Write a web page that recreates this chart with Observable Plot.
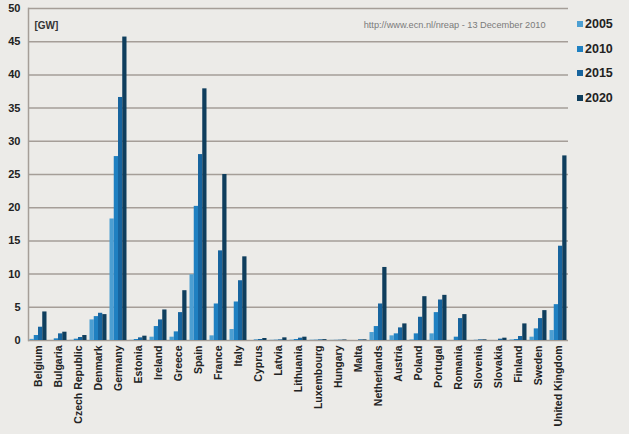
<!DOCTYPE html>
<html><head><meta charset="utf-8">
<script src="https://cdn.jsdelivr.net/npm/d3@7"></script>
<script src="https://cdn.jsdelivr.net/npm/@observablehq/plot@0.6"></script>
<style>
html,body{margin:0;padding:0;background:#ecebe8;}
#wrap{position:relative;width:629px;height:434px;font-family:"Liberation Sans",Arial,sans-serif;}
#legend{position:absolute;left:577px;top:12px;font-weight:bold;font-size:12.5px;color:#222;}
#legend div{height:24.5px;display:flex;align-items:center;}
#legend span.sw{display:inline-block;width:6px;height:6px;margin-right:2px;}
</style></head>
<body><div id="wrap"><div id="legend"></div></div>
<script>
const countries = ["Belgium","Bulgaria","Czech Republic","Denmark","Germany","Estonia","Ireland","Greece","Spain","France","Italy","Cyprus","Latvia","Lithuania","Luxembourg","Hungary","Malta","Netherlands","Austria","Poland","Portugal","Romania","Slovenia","Slovakia","Finland","Sweden","United Kingdom"];
const years = ["2005","2010","2015","2020"];
const v2005 = [0.17,0.01,0.03,3.1,18.3,0.03,0.5,0.5,9.9,0.7,1.65,0,0.03,0.05,0.04,0.02,0,1.2,0.7,0.08,1.0,0.01,0,0.005,0.08,0.5,1.5];
const v2010 = [0.75,0.25,0.2,3.6,27.7,0.15,2.1,1.3,20.2,5.5,5.8,0.08,0.05,0.15,0.05,0.03,0,2.1,1.0,1.0,4.2,0.5,0.03,0.005,0.15,1.75,5.4];
const v2015 = [2.0,1.0,0.45,4.1,36.6,0.4,3.1,4.2,28.0,13.5,9.0,0.15,0.1,0.35,0.1,0.05,0.1,5.5,1.9,3.5,6.1,3.3,0.1,0.2,0.6,3.3,14.2];
const v2020 = [4.3,1.25,0.75,3.9,45.7,0.65,4.6,7.5,37.9,25.0,12.6,0.3,0.4,0.5,0.13,0.08,0.1,11.0,2.5,6.6,6.8,3.9,0.1,0.35,2.5,4.5,27.8];
const yTicks = [0,5,10,15,20,25,30,35,40,45,50];
const colors = ["#4c9fd2","#1f80c1","#17649e","#0f3e5d"];
const seriesValues = [v2005, v2010, v2015, v2020];

const W = 629, H = 434, ML = 28, MR = 61, MT = 8, MB = 94;
const bw = (W - ML - MR) / countries.length;
const gap = bw * 0.075, barW = (bw - 2 * gap) / years.length;

const rows = years.map((y, i) => countries.map((c, j) => ({country: c, year: y, value: seriesValues[i][j]})));

const barMarks = years.map((y, i) => Plot.barY(rows[i], {
  x: "country", y: "value", fill: colors[i],
  insetLeft: gap + i * barW, insetRight: gap + (years.length - 1 - i) * barW
}));

const chart = Plot.plot({
  width: W, height: H,
  marginLeft: ML, marginRight: MR, marginTop: MT, marginBottom: MB,
  style: {background: "transparent", fontFamily: "'Liberation Sans', Arial, sans-serif"},
  x: {domain: countries, padding: 0, label: null},
  y: {domain: [0, 50], label: null},
  marks: [
    Plot.ruleY(yTicks, {stroke: "#a59e98", strokeWidth: 1.5}),
    Plot.frame({anchor: "left", stroke: "#a59e98", strokeWidth: 1.5}),
    ...barMarks,
    Plot.axisX({tickSize: 0, tickRotate: -90, tickPadding: 5, fontSize: 10.5, fontWeight: "bold", fill: "#222", label: null}),
    Plot.axisY({ticks: yTicks, tickSize: 0, tickPadding: 8, fontSize: 11, fontWeight: "bold", fill: "#222", label: null}),
    Plot.text(["[GW]"], {frameAnchor: "top-left", dx: 6, dy: 13, textAnchor: "start", fontSize: 10, fontWeight: "bold", fill: "#333"}),
    Plot.text(["http://www.ecn.nl/nreap - 13 December 2010"], {frameAnchor: "top-right", dx: -23, dy: 13, textAnchor: "end", fontSize: 9.2, fill: "#7a7a7a"})
  ]
});
const wrap = document.getElementById("wrap");
wrap.insertBefore(chart, wrap.firstChild);
const legend = document.getElementById("legend");
years.forEach((y, i) => {
  const d = document.createElement("div");
  d.innerHTML = `<span class="sw" style="background:${colors[i]}"></span>${y}`;
  legend.appendChild(d);
});
</script></body></html>
